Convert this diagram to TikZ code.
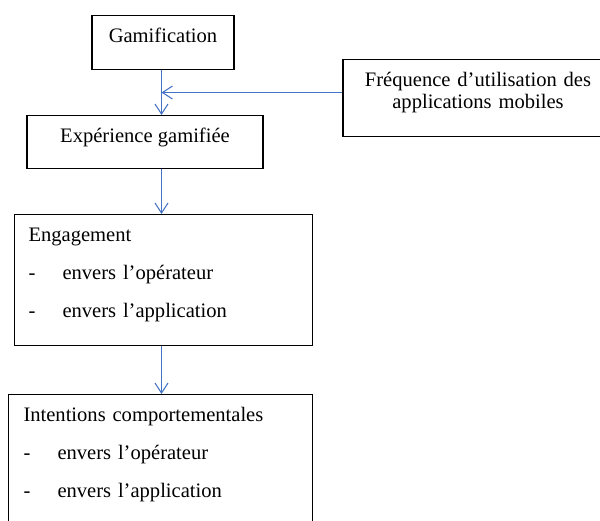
\documentclass[tikz,border=0pt]{standalone}
\usepackage{fontspec}
\setmainfont{Liberation Serif}
\usetikzlibrary{arrows.meta,calc}
\definecolor{bleuword}{HTML}{4472C4}

\begin{document}
\begin{tikzpicture}[
        boite/.style={draw=black, line width=0.6pt, inner sep=0pt,
          font=\fontsize{11.7pt}{12.5pt}\selectfont, text height=0.54cm},
        liste/.style={boite, align=left, anchor=north west},
        fleche/.style={draw=bleuword, line width=0.6pt,
          -{Straight Barb[length=0.2cm,width=0.26cm]}}]
        % Cadre
        \clip (0,0) rectangle (12,-10.42);
        % Boites
        \node[boite, anchor=north, minimum width=2.84cm, text depth=0.54cm]
          (gam) at (3.26,-0.30) {Gamification};
        \node[boite, anchor=north, minimum width=4.72cm, text depth=0.52cm]
          (exp) at (2.90,-2.30) {Expérience gamifiée};
        \node[boite, anchor=north, text width=5.4cm, text depth=1.0cm, align=center]
          (freq) at (9.56,-1.18) {Fréquence d’utilisation des\\applications mobiles};
        \node[liste, inner xsep=0.28cm, text width=5.4cm, text depth=2.08cm]
          (eng) at (0.28,-4.28) {Engagement\\[0.32cm]
            \makebox[0.68cm][l]{-}envers l’opérateur\\[0.32cm]
            \makebox[0.68cm][l]{-}envers l’application};
        \node[liste, inner xsep=0.30cm, text width=5.48cm, text depth=2.6cm]
          (int) at (0.16,-7.88) {Intentions comportementales\\[0.32cm]
            \makebox[0.68cm][l]{-}envers l’opérateur\\[0.32cm]
            \makebox[0.68cm][l]{-}envers l’application};
        % Fleches
        \coordinate (axe) at (3.23,0);
        \coordinate (jonction) at ($(axe |- gam.south)!0.5!(axe |- exp.north)$);
        \draw[fleche] (axe |- gam.south) -- (axe |- exp.north);
        \draw[fleche] (freq.west |- jonction) -- (jonction);
        \draw[fleche] (axe |- exp.south) -- (axe |- eng.north);
        \draw[fleche] (axe |- eng.south) -- (axe |- int.north);
    \end{tikzpicture}
\end{document}
